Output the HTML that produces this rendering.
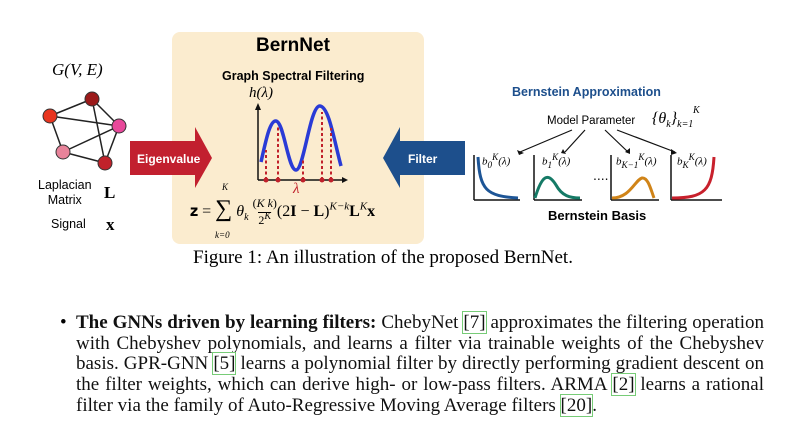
<!DOCTYPE html>
<html><head><meta charset="utf-8"><style>
body{margin:0;width:800px;height:430px;background:#fff;position:relative;overflow:hidden;font-family:"Liberation Sans",sans-serif}
.a{position:absolute;white-space:nowrap}
.s{font-family:"Liberation Serif",serif}
.ln{position:absolute;left:76px;width:688px;font-family:"Liberation Serif",serif;font-size:19px;text-align:justify;text-align-last:justify;white-space:nowrap;color:#111;line-height:21px}
.c{outline:1px solid #7c7;padding:0}
</style></head><body>
<div class="a" style="left:172px;top:32px;width:252px;height:212px;background:#fbeccf;border-radius:8px"></div>
<div class="a" style="left:256px;top:35px;font-size:19px;font-weight:bold">BernNet</div>
<div class="a" style="left:222px;top:69px;font-size:12.5px;font-weight:bold">Graph Spectral Filtering</div>
<div class="a s" style="left:249px;top:85px;font-size:15px;font-style:italic">h(λ)</div>
<div class="a s" style="left:52px;top:60px;font-size:17px;font-style:italic">G(V, E)</div>
<svg class="a" style="left:0;top:0" width="800" height="250">
<g stroke="#222" stroke-width="1.5">
<line x1="92" y1="99" x2="50" y2="116"/><line x1="92" y1="99" x2="119" y2="126"/><line x1="92" y1="99" x2="105" y2="163"/>
<line x1="50" y1="116" x2="119" y2="126"/><line x1="50" y1="116" x2="63" y2="152"/><line x1="63" y1="152" x2="119" y2="126"/>
<line x1="63" y1="152" x2="105" y2="163"/><line x1="105" y1="163" x2="119" y2="126"/></g>
<g stroke="#333" stroke-width="1">
<circle cx="92" cy="99" r="7" fill="#9b1a1a"/><circle cx="50" cy="116" r="7" fill="#e8351f"/><circle cx="119" cy="126" r="7" fill="#e8489a"/><circle cx="63" cy="152" r="7" fill="#e8839a"/><circle cx="105" cy="163" r="7" fill="#c1222b"/></g>
<polygon points="130,141 195,141 195,127 212,158 195,188 195,175 130,175" fill="#c2202f"/>
<text x="137" y="163" font-size="12" font-weight="bold" fill="#fff" font-family="Liberation Sans">Eigenvalue</text>
<polygon points="465,141 400,141 400,127 383,158 400,188 400,175 465,175" fill="#1d4f8c"/>
<text x="408" y="163" font-size="12" font-weight="bold" fill="#fff" font-family="Liberation Sans">Filter</text>
<g stroke="#111" stroke-width="1.5"><line x1="258" y1="180" x2="258" y2="108"/><line x1="258" y1="180" x2="344" y2="180"/></g>
<polygon points="255,110 258,103 261,110" fill="#111"/><polygon points="342,177 348,180 342,183" fill="#111"/>
<path d="M261,162 C266,140 270,120 276,121 C284,122 288,170 296,170 C304,170 310,105 320,106 C329,107 334,140 341,166" fill="none" stroke="#2a3bd6" stroke-width="3.5"/>
<g stroke="#c0202a" stroke-width="2" stroke-dasharray="3,2.5"><line x1="266" y1="180" x2="266" y2="150"/><line x1="278" y1="180" x2="278" y2="125"/><line x1="303" y1="180" x2="303" y2="158"/><line x1="322" y1="180" x2="322" y2="112"/><line x1="331" y1="180" x2="331" y2="128"/></g>
<g fill="#c0202a"><circle cx="266" cy="180" r="2.5"/><circle cx="278" cy="180" r="2.5"/><circle cx="303" cy="180" r="2.5"/><circle cx="322" cy="180" r="2.5"/><circle cx="331" cy="180" r="2.5"/></g>
<text x="293" y="193" font-size="15" font-style="italic" fill="#c0202a" font-family="Liberation Serif">λ</text>
<g stroke="#111" stroke-width="1.2"><line x1="572" y1="130" x2="520" y2="152"/><line x1="585" y1="130" x2="565" y2="152"/><line x1="605" y1="130" x2="628" y2="152"/><line x1="617" y1="130" x2="675" y2="152"/></g>
<g fill="#111"><polygon points="517,150 524,153 519,155"/><polygon points="563,149 566,154 561,153"/><polygon points="630,148 630,154 625,152"/><polygon points="671,149 677,153 671,155"/></g>
<g stroke="#111" stroke-width="1.5" fill="none">
<path d="M474,200 V155 M474,200 H520"/><path d="M534,200 V155 M534,200 H582"/><path d="M611,200 V155 M611,200 H659"/><path d="M671,200 V155 M671,200 H722"/></g>
<path d="M478,157 C480,190 486,196 518,198" fill="none" stroke="#1d5596" stroke-width="3"/>
<path d="M535,198 C542,175 548,172 556,185 C562,196 570,198 580,198" fill="none" stroke="#157a66" stroke-width="3"/>
<path d="M612,198 C630,198 635,180 642,178 C648,177 651,190 654,198" fill="none" stroke="#d08418" stroke-width="3"/>
<path d="M672,198 C705,198 712,190 714,157" fill="none" stroke="#c8202c" stroke-width="3"/>
<text x="593" y="180" font-size="14" fill="#111">....</text>
</svg>
<div class="a" style="left:38px;top:178px;font-size:12.5px;text-align:center;line-height:15px">Laplacian<br>Matrix</div>
<div class="a s" style="left:104px;top:183px;font-size:17px;font-weight:bold">L</div>
<div class="a" style="left:51px;top:217px;font-size:12.5px">Signal</div>
<div class="a s" style="left:106px;top:215px;font-size:17px;font-weight:bold">x</div>
<div class="a s" style="left:190px;top:196px;font-size:16px">𝐳 = <span style="font-size:24px">∑</span> <i>θ<sub style="font-size:10px">k</sub></i> <span style="display:inline-block;text-align:center;vertical-align:middle;font-size:12px;line-height:13px">(<i>K k</i>)<br><span style="border-top:1px solid #000">2<sup><i>K</i></sup></span></span>(2<b>I</b> − <b>L</b>)<sup style="font-size:11px"><i>K−k</i></sup><b>L</b><sup style="font-size:11px"><i>K</i></sup><b>x</b></div>
<div class="a s" style="left:222px;top:182px;font-size:9px;font-style:italic">K</div>
<div class="a s" style="left:215px;top:230px;font-size:9px;font-style:italic">k=0</div>
<div class="a" style="left:512px;top:85px;font-size:12.5px;font-weight:bold;color:#1d4f8c">Bernstein Approximation</div>
<div class="a" style="left:547px;top:115px;font-size:11.5px">Model Parameter</div>
<div class="a s" style="left:652px;top:110px;font-size:16px;font-style:italic">{θ<sub style="font-size:10px">k</sub>}<sub style="font-size:10px">k=1</sub></div>
<div class="a s" style="left:693px;top:105px;font-size:10px;font-style:italic">K</div>
<div class="a s" style="left:482px;top:152px;font-size:11px;font-style:italic">b<sub>0</sub><sup>K</sup>(λ)</div>
<div class="a s" style="left:542px;top:152px;font-size:11px;font-style:italic">b<sub>1</sub><sup>K</sup>(λ)</div>
<div class="a s" style="left:616px;top:152px;font-size:11px;font-style:italic">b<sub>K−1</sub><sup>K</sup>(λ)</div>
<div class="a s" style="left:677px;top:152px;font-size:11px;font-style:italic">b<sub>K</sub><sup>K</sup>(λ)</div>
<div class="a" style="left:548px;top:208px;font-size:13px;font-weight:bold">Bernstein Basis</div>
<div class="a s" style="left:193px;top:247px;font-size:19px">Figure 1: An illustration of the proposed BernNet.</div>
<div class="a s" style="left:60px;top:312px;font-size:19px">•</div>
<div class="ln" style="top:312px"><b>The GNNs driven by learning filters:</b> ChebyNet <span class="c">[7]</span> approximates the filtering operation</div>
<div class="ln" style="top:333px">with Chebyshev polynomials, and learns a filter via trainable weights of the Chebyshev</div>
<div class="ln" style="top:353px">basis. GPR-GNN <span class="c">[5]</span> learns a polynomial filter by directly performing gradient descent on</div>
<div class="ln" style="top:374px">the filter weights, which can derive high- or low-pass filters. ARMA <span class="c">[2]</span> learns a rational</div>
<div class="ln" style="top:395px;text-align-last:left">filter via the family of Auto-Regressive Moving Average filters <span class="c">[20]</span>.</div>
</body></html>
